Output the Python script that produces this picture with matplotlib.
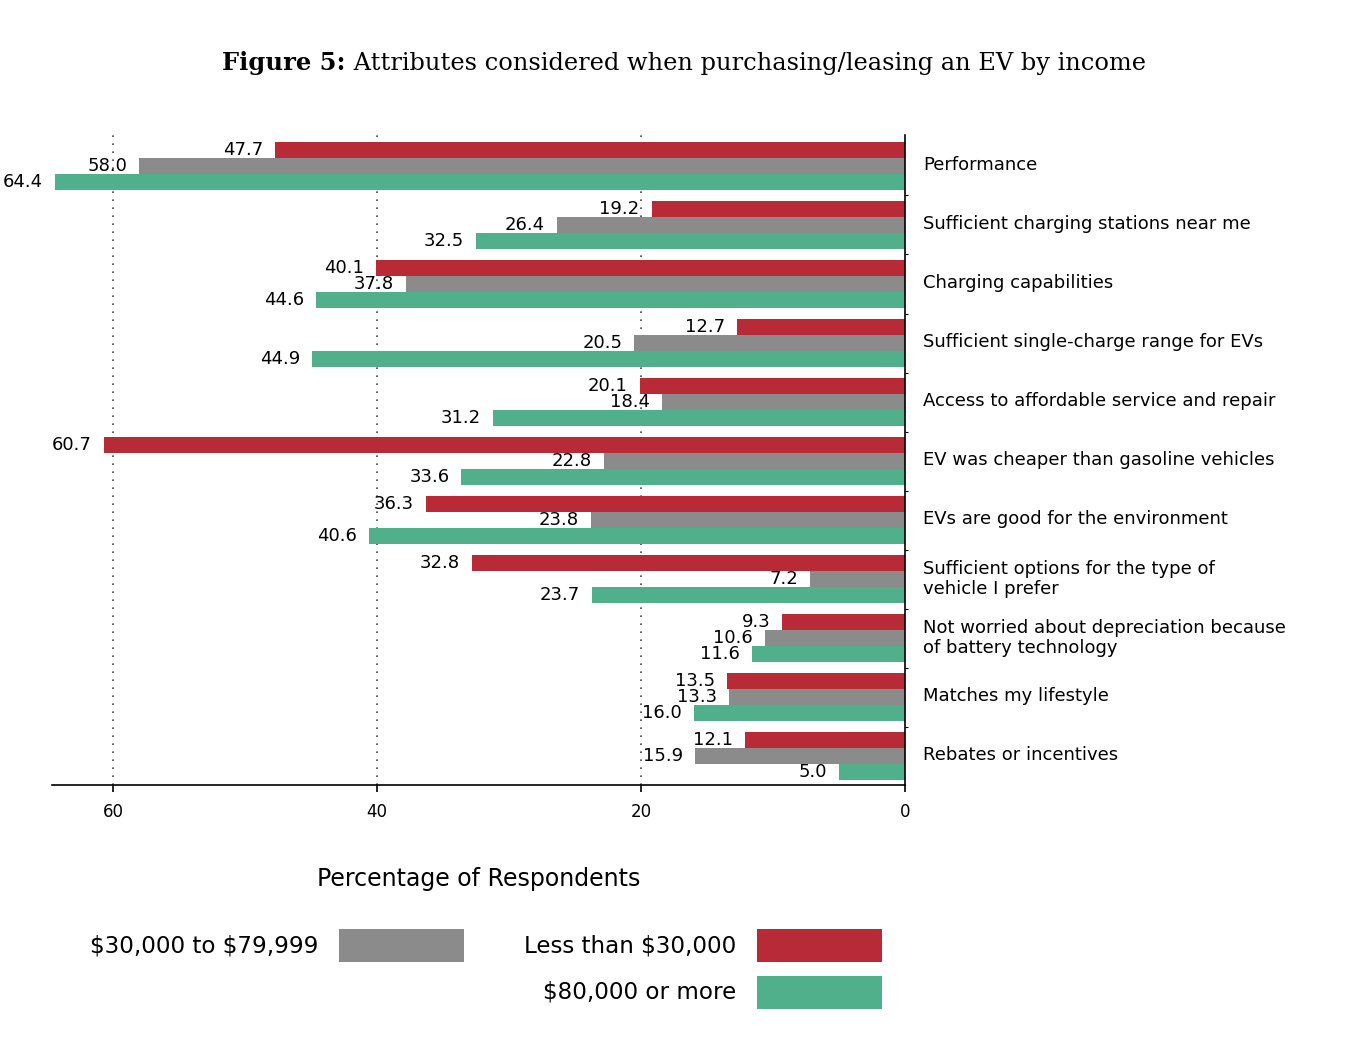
import matplotlib
matplotlib.use("Agg")
import matplotlib.pyplot as plt
import matplotlib.patches as mpatches
from matplotlib.text import Annotation
from matplotlib.transforms import ScaledTranslation
import numpy as np

categories = [
    "Performance",
    "Sufficient charging stations near me",
    "Charging capabilities",
    "Sufficient single-charge range for EVs",
    "Access to affordable service and repair",
    "EV was cheaper than gasoline vehicles",
    "EVs are good for the environment",
    "Sufficient options for the type of\nvehicle I prefer",
    "Not worried about depreciation because\nof battery technology",
    "Matches my lifestyle",
    "Rebates or incentives",
]
less_30k = [47.7, 19.2, 40.1, 12.7, 20.1, 60.7, 36.3, 32.8, 9.3, 13.5, 12.1]
mid_30_80k = [58.0, 26.4, 37.8, 20.5, 18.4, 22.8, 23.8, 7.2, 10.6, 13.3, 15.9]
over_80k = [64.4, 32.5, 44.6, 44.9, 31.2, 33.6, 40.6, 23.7, 11.6, 16.0, 5.0]
series_names = ["Less than \\$30,000", "\\$30,000 to \\$79,999", "\\$80,000 or more"]
xticks = [0, 20, 40, 60]

colors = ["#B82A36", "#8B8B8B", "#50B08B"]
sans = ["DejaVu Sans"]
serif = ["DejaVu Serif"]

W, H = 1366, 1044
fig = plt.figure(figsize=(W / 100, H / 100), dpi=100)
ax = fig.add_axes([52 / W, (H - 785) / H, (905 - 52) / W, (785 - 135) / H])

y = np.arange(len(categories))
bh = 16 / 59
series = [less_30k, mid_30_80k, over_80k]
for k, (vals, col) in enumerate(zip(series, colors)):
    ypos = y + (k - 1) * bh
    ax.barh(ypos, vals, height=bh, color=col, zorder=2, linewidth=0)
    for yy, v in zip(ypos, vals):
        ax.annotate(f"{v:.1f}", xy=(v, yy), xytext=(-12, 0), textcoords="offset pixels",
                    ha="right", va="center", fontsize=13, family=sans, zorder=3,
                    annotation_clip=False)

ax.set_xlim(64.62, 0)
ax.set_ylim(10.49, -0.525)

for gx in [20, 40, 60]:
    ax.axvline(gx, color="#444444", lw=1.2, linestyle=(0, (1, 3.8)), zorder=1)

ax.set_xticks(xticks)
ax.set_xticklabels([str(t) for t in xticks], family=sans, fontsize=12)
ax.tick_params(axis="x", direction="out", length=5, width=1.2, pad=8)

ax.yaxis.tick_right()
ax.set_yticks(y)
ax.set_yticklabels(categories, family=sans, fontsize=13, linespacing=1.15)
ax.tick_params(axis="y", which="major", length=0, pad=13)
ax.set_yticks(np.arange(len(categories) - 1) + 0.5, minor=True)
ax.tick_params(axis="y", which="minor", length=2.5, width=0.8, direction="out")
shift_up = ScaledTranslation(0, 3 / 100, fig.dpi_scale_trans)
for lbl in ax.get_yticklabels():
    lbl.set_transform(lbl.get_transform() + shift_up)

for s in ["top", "left"]:
    ax.spines[s].set_visible(False)
ax.spines["bottom"].set_linewidth(1.2)
ax.spines["right"].set_linewidth(1.2)
ax.spines["right"].set_zorder(4)

ax.set_xlabel("Percentage of Respondents", family=sans, fontsize=17, labelpad=33)

# Title: bold "Figure 5:" followed by regular text
t1 = fig.text(222 / W, (H - 63) / H, "Figure 5:", family=serif, fontsize=17.4,
              fontweight="bold", ha="left", va="center")
fig.add_artist(Annotation(
    " Attributes considered when purchasing/leasing an EV by income",
    xy=(1, 0), xycoords=t1, va="bottom", ha="left",
    family=serif, fontsize=17.4))

# Legend (swatch to the right of the text, as in the reference layout)
leg = [
    (series_names[0], colors[0], 757, 929),
    (series_names[2], colors[2], 757, 976),
    (series_names[1], colors[1], 339, 929),
]
for name, col, px, py in leg:
    fig.patches.append(mpatches.Rectangle(
        (px / W, (H - py - 33) / H), 125 / W, 33 / H, transform=fig.transFigure,
        facecolor=col, edgecolor="none"))
    fig.text((px - 21) / W, (H - py - 16.5) / H, name, ha="right", va="center",
             family=sans, fontsize=16.6)

fig.savefig("out.png", dpi=100)
